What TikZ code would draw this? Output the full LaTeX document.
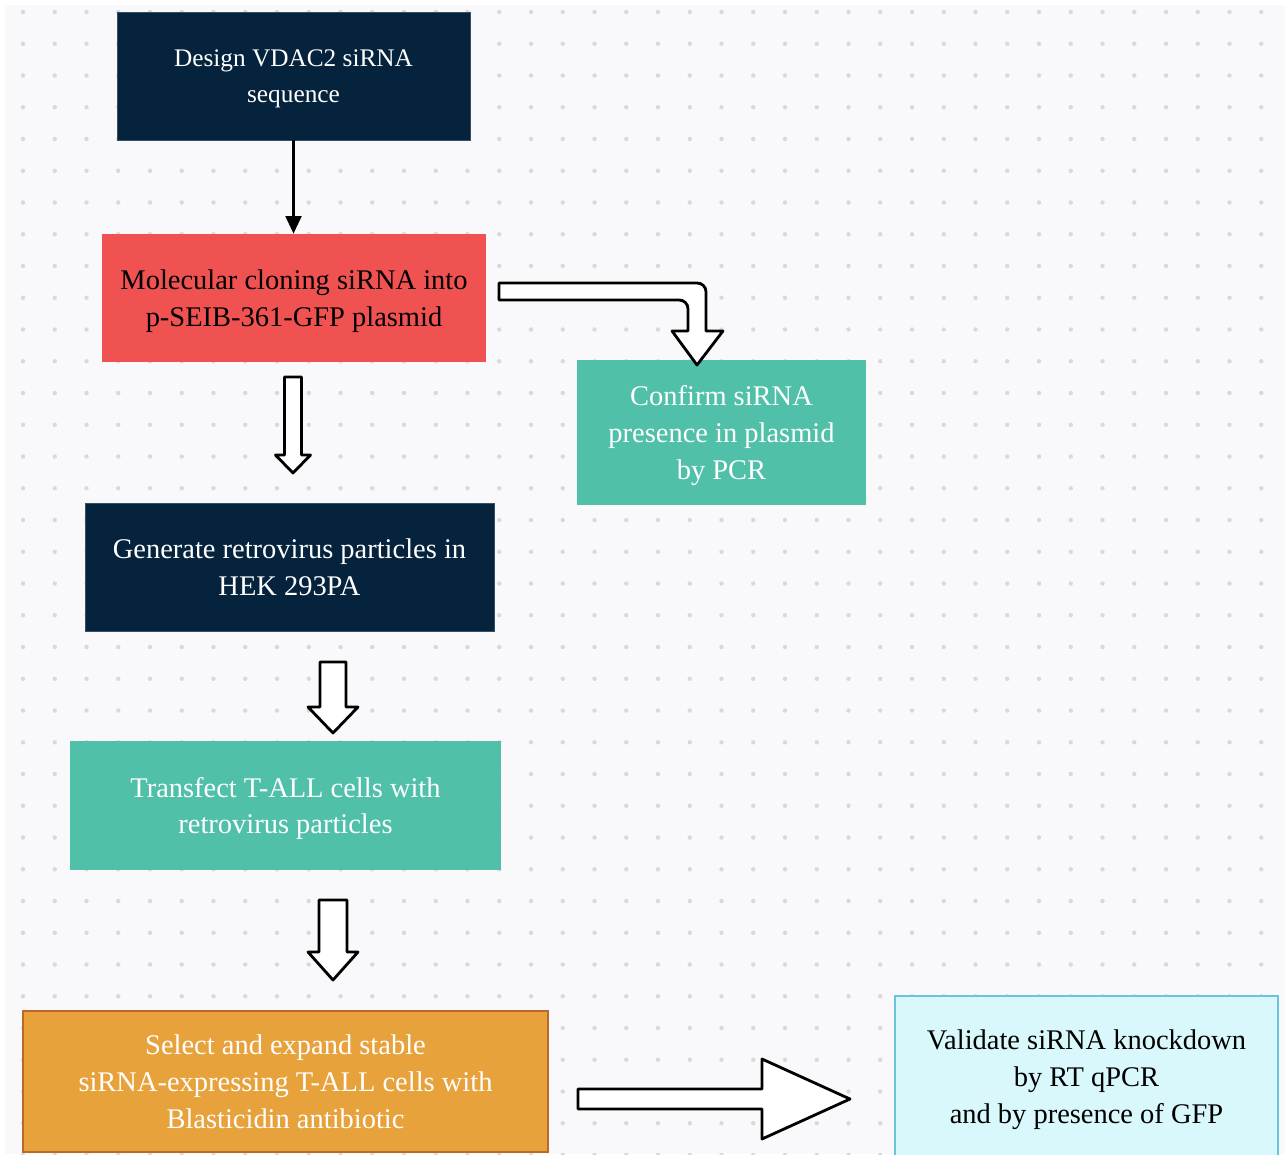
\documentclass[tikz,border=0pt]{standalone}
\usepackage{fontspec}
\setmainfont{Liberation Serif}
\usetikzlibrary{arrows.meta}

\definecolor{navy}{RGB}{5,35,61}
\definecolor{salmon}{RGB}{240,82,82}
\definecolor{teal}{RGB}{80,192,169}
\definecolor{amber}{RGB}{232,162,60}
\definecolor{amberline}{RGB}{188,104,40}
\definecolor{paleblue}{RGB}{217,248,252}
\definecolor{paleline}{RGB}{105,196,220}
\definecolor{sheet}{RGB}{249,249,251}
\definecolor{dotgray}{RGB}{216,216,221}

\begin{document}
\begin{tikzpicture}[
        x=0.02cm, y=-0.02cm,
        box/.style={inner sep=0pt, align=center, text depth=0pt, font=\fontsize{16.2}{21}\selectfont},
        navybox/.style={box, fill=navy, draw=navy!80!white, text=white},
        redbox/.style={box, fill=salmon, text=black},
        tealbox/.style={box, fill=teal, text=white},
        amberbox/.style={box, fill=amber, draw=amberline, line width=1.2pt, text=white},
        palebox/.style={box, fill=paleblue, draw=paleline, line width=1.6pt, text=black},
        hollow/.style={draw=black, fill=white, line width=1.6pt, line join=round}
    ]
    \useasboundingbox (0,0) rectangle (1285,1154);
    \fill[sheet] (5,5) rectangle (1285,1154);
    \foreach \i in {0,...,39}
        \foreach \j in {0,...,36}
            \fill[dotgray] ({23+31.75*\i},{12+31.75*\j}) circle (2.2);

    \node[navybox, minimum width=7.06cm, minimum height=2.56cm, text depth=-2pt,
        font=\fontsize{14.4}{20.5}\selectfont] (design) at (293.5,76)
        {Design VDAC2 siRNA\\sequence};
    \node[redbox, minimum width=7.68cm, minimum height=2.56cm] (cloning) at (294,298)
        {Molecular cloning siRNA into\\p-SEIB-361-GFP plasmid};
    \node[tealbox, minimum width=5.78cm, minimum height=2.9cm] (confirm) at (721.5,432.5)
        {Confirm siRNA\\presence in plasmid\\by PCR};
    \node[navybox, minimum width=8.18cm, minimum height=2.56cm, text depth=-3.4pt] (generate) at (289.5,567)
        {Generate retrovirus particles in\\HEK 293PA};
    \node[tealbox, minimum width=8.62cm, minimum height=2.58cm] (transfect) at (285.5,805.5)
        {Transfect T-ALL cells with\\retrovirus particles};
    \node[amberbox, minimum width=10.5cm, minimum height=2.82cm, text depth=-3.4pt] (select) at (285.5,1081.5)
        {Select and expand stable\\siRNA-expressing T-ALL cells with\\Blasticidin antibiotic};
    \node[palebox, minimum width=7.66cm, minimum height=3.24cm] (validate) at (1086.5,1077)
        {Validate siRNA knockdown\\by RT qPCR\\and by presence of GFP};

    \draw[line width=1.4pt, -{Triangle[length=10pt, width=9pt]}]
        (design.south) -- (design.south |- cloning.north);

    % hollow arrows
    \draw[hollow] (499,283) [rounded corners=5] -- (706,283) [sharp corners] -- (706,331)
        -- (723,331) -- (697,365) -- (672,331) -- (688,331) [rounded corners=5] -- (688,300)
        [sharp corners] -- (499,300) -- cycle;
    \draw[hollow] (284.5,377) -- (301.5,377) -- (301.5,455) -- (310.5,455) -- (293,473)
        -- (275.5,455) -- (284.5,455) -- cycle;
    \draw[hollow] (320,662) -- (346,662) -- (346,707) -- (358,707) -- (333,733)
        -- (308,707) -- (320,707) -- cycle;
    \draw[hollow] (319,900) -- (347,900) -- (347,952) -- (358,952) -- (333,980)
        -- (308,952) -- (319,952) -- cycle;
    \draw[hollow] (578,1089) -- (762,1089) -- (762,1059) -- (850,1099) -- (762,1139)
        -- (762,1109) -- (578,1109) -- cycle;
\end{tikzpicture}
\end{document}
